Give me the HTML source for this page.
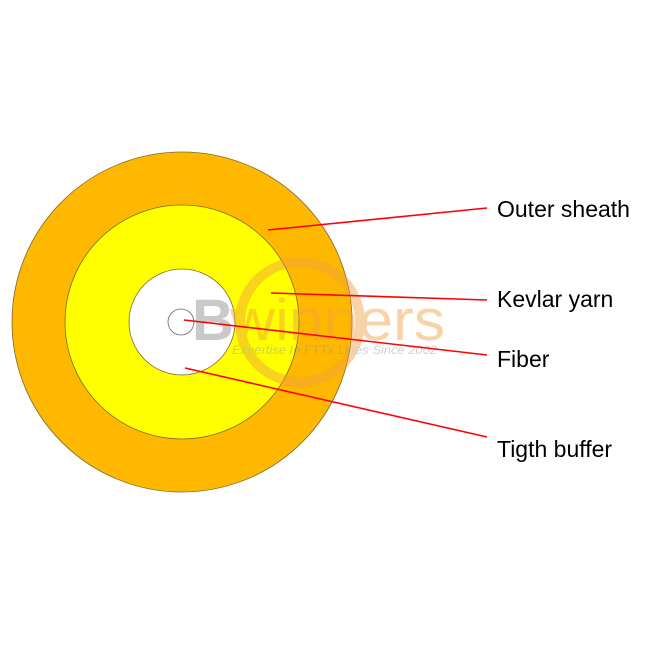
<!DOCTYPE html>
<html><head><style>body{margin:0;background:#fff}</style></head><body>
<svg width="650" height="650" viewBox="0 0 650 650" xmlns="http://www.w3.org/2000/svg">
<rect width="650" height="650" fill="#fff"/>
<circle cx="182" cy="322" r="170" fill="#FFB800" stroke="#7a6a30" stroke-width="0.8"/>
<circle cx="182" cy="322" r="117" fill="#FFFF00" stroke="#7a6a30" stroke-width="0.8"/>
<circle cx="182" cy="322" r="53" fill="#fff" stroke="#7a6a30" stroke-width="0.8"/>
<circle cx="181" cy="322" r="13" fill="#fff" stroke="#666" stroke-width="0.8"/>
<g opacity="0.45">
<circle cx="300" cy="322" r="60" fill="none" stroke="#f0a040" stroke-width="10"/>
<text x="192" y="340" font-family="Liberation Sans, sans-serif" font-weight="bold" font-size="58" fill="#888">B</text>
<text x="230" y="340" font-family="Liberation Sans, sans-serif" font-size="58" fill="#f0a040" textLength="215" lengthAdjust="spacingAndGlyphs">winners</text>
<text x="232" y="354" font-family="Liberation Sans, sans-serif" font-size="12" font-style="italic" fill="#999" textLength="205" lengthAdjust="spacingAndGlyphs">Expertise In FTTx Lines Since 2002</text>
</g>
<g stroke="#ff0000" stroke-width="1.6">
<line x1="268" y1="230" x2="487" y2="208"/>
<line x1="271" y1="293" x2="487" y2="300"/>
<line x1="184" y1="320" x2="487" y2="355"/>
<line x1="185" y1="368" x2="487" y2="437"/>
</g>
<g font-family="Liberation Sans, sans-serif" font-size="23" fill="#000">
<text x="497" y="217">Outer sheath</text>
<text x="497" y="307">Kevlar yarn</text>
<text x="497" y="367">Fiber</text>
<text x="497" y="457">Tigth buffer</text>
</g>
</svg>
</body></html>
